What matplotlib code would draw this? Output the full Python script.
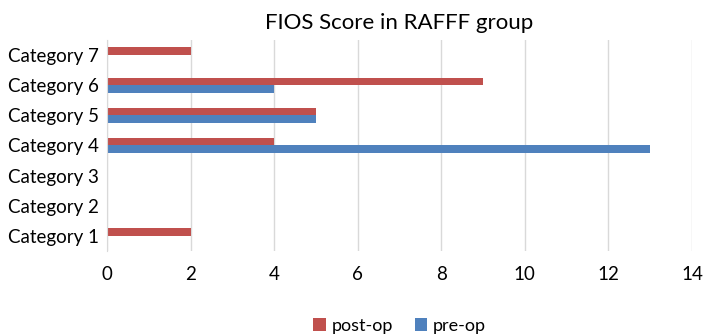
import numpy as np
import matplotlib.pyplot as plt

plt.rcParams['font.family'] = ['Lato', 'DejaVu Sans']

categories = ['Category 1', 'Category 2', 'Category 3', 'Category 4',
              'Category 5', 'Category 6', 'Category 7']
post_op = [2, 0, 0, 4, 5, 9, 2]
pre_op = [0, 0, 0, 13, 5, 4, 0]

fig = plt.figure(figsize=(7.09, 3.35), dpi=100)
ax = fig.add_axes([0.151, 0.251, 0.825, 0.63])

y = np.arange(len(categories))
h = 0.25
ax.barh(y + h / 2, post_op, height=h, color='#C0504D', label='post-op')
ax.barh(y - h / 2, pre_op, height=h, color='#4F81BD', label='pre-op')

ax.set_xlim(0, 14)
ax.set_ylim(-0.5, len(categories) - 0.5)
ax.set_xticks(range(0, 15, 2))
ax.set_yticks(y)
ax.set_yticklabels(categories)
ax.tick_params(axis='both', length=0, labelsize=13.5, colors='#000000')
ax.tick_params(axis='x', pad=11)
ax.tick_params(axis='y', pad=6)
ax.grid(axis='x', color='#D9D9D9', linewidth=1)
ax.set_axisbelow(True)
for s in ['top', 'right', 'bottom']:
    ax.spines[s].set_visible(False)
ax.spines['left'].set_color('#D9D9D9')

ax.set_title('FIOS Score in RAFFF group', fontsize=16, pad=8)
ax.legend(loc='lower center', bbox_to_anchor=(0.5, -0.47), ncol=2, frameon=False,
          fontsize=13, handlelength=0.7, handleheight=0.7, handletextpad=0.3,
          columnspacing=1.2)

fig.savefig('out.png', dpi=100)
